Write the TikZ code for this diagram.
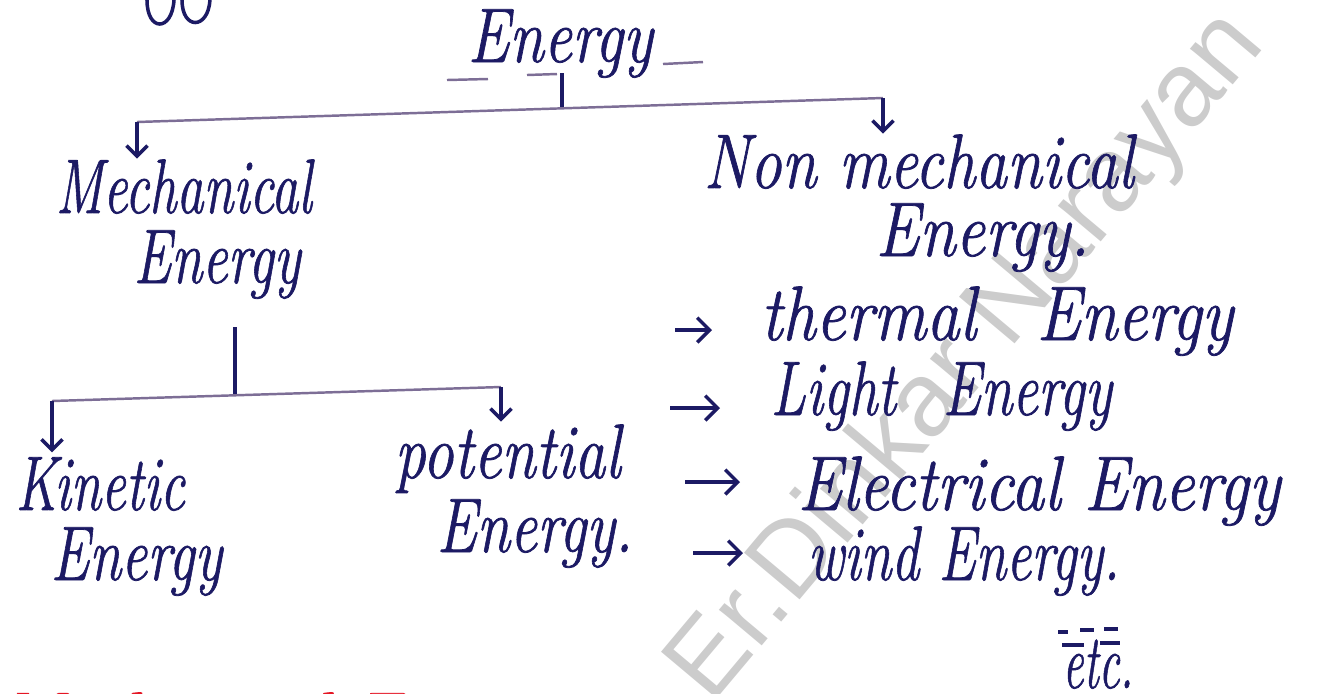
\documentclass[tikz,border=0pt]{standalone}
\usepackage{fontspec}
\setsansfont{Liberation Sans}
\newfontfamily\handfont{Latin Modern Roman}[ItalicFeatures={FakeBold=1}]
\usetikzlibrary{arrows.meta,positioning,calc}
\definecolor{ink}{RGB}{28,26,100}
\definecolor{pen}{RGB}{125,110,150}
\definecolor{redink}{RGB}{228,22,36}
\definecolor{wmark}{RGB}{204,204,204}
\newcommand{\hw}[2]{\scalebox{#1}[1]{#2}}

\begin{document}
\begin{tikzpicture}[x=0.01cm,y=-0.01cm,
    hand/.style={font=\handfont\fontsize{22}{26}\selectfont\itshape, text=ink, inner sep=0pt, anchor=base west},
    bar/.style={pen, line width=0.7pt},
    stem/.style={ink, line width=1pt},
    down/.style={ink, line width=1pt, -{Straight Barb[length=3pt,width=6pt]}},
    bullet/.style={ink, line width=1pt, -{Straight Barb[length=3.5pt,width=7pt]}}]
  \useasboundingbox (0,0) rectangle (1335,693);
  % watermark
  \node[font=\sffamily\fontsize{30}{32}\selectfont, text=wmark, rotate=50] (wm) at (968,358) {Er.Dinkar Narayan};
  % bit of the line above
  \draw[stem] (147,0) .. controls (147,32) and (172,32) .. (174,0);
  \draw[stem] (182,0) .. controls (182,30) and (208,30) .. (210,0);
  % words
  \node[hand] (ttl) at (467,62) {\hw{0.81}{Energy}};
  \node[hand] (mechA) at (55,213) {\hw{0.70}{Mechanical}};
  \node[hand] (mechB) at (133,283) {\hw{0.73}{Energy}};
  \node[hand] (nonA) at (703,188) {\hw{0.82}{Non mechanical}};
  \node[hand] (nonB) at (875,256) {\hw{0.85}{Energy.}};
  \node[hand] (kinA) at (15,510) {\hw{0.71}{Kinetic}};
  \node[hand] (kinB) at (50,580) {\hw{0.75}{Energy}};
  \node[hand] (potA) at (394,478) {\hw{0.80}{potential}};
  \node[hand] (potB) at (436,552) {\hw{0.78}{Energy.}};
  \node[hand] (therm) at (760,340) {\hw{0.86}{thermal\hspace{20pt}Energy}};
  \node[hand] (light) at (770,415) {\hw{0.74}{Light\hspace{18pt}Energy}};
  \node[hand] (elec) at (797,510) {\hw{0.86}{Electrical Energy}};
  \node[hand] (wind) at (807,580) {\hw{0.72}{wind Energy.}};
  \node[hand] (etcn) at (1062,688) {\hw{0.6}{etc.}};
  \node[hand, text=redink] (red) at (0,746) {\hw{0.9}{Mechanical Energy}};
  % underline of the title
  \draw[bar] (447,80) -- (488,79);
  \draw[bar] (527,75) -- (557,74);
  \draw[bar] (663,64) -- (703,62);
  % first split
  \coordinate (t0) at (562,73);
  \coordinate (t1) at (562,109);
  \coordinate (b1l) at (137,122);
  \coordinate (b1r) at (883,98);
  \draw[stem] (t0) -- (t1);
  \draw[bar] (b1l) -- (b1r);
  \draw[down] (b1l) -- (b1l |- mechA.north);
  \draw[down] (b1r) -- (b1r |- nonA.north);
  % second split
  \coordinate (s0) at (235,327);
  \coordinate (s1) at (235,395);
  \coordinate (b2l) at (52,401);
  \coordinate (b2r) at (501,387);
  \draw[stem] (s0) -- (s1);
  \draw[bar] (b2l) -- (b2r);
  \draw[down] (b2l) -- ($(b2l |- kinA.north)+(0,-4)$);
  \draw[down] (b2r) -- ($(b2r |- potA.north)+(0,-2)$);
  % list marks
  \draw[bullet] ($(therm.base west)+(-85,-10)$) -- ++(37,0);
  \draw[bullet] ($(light.base west)+(-100,-7)$) -- ++(50,0);
  \draw[bullet] ($(elec.base west)+(-112,-28)$) -- ++(55,0);
  \draw[bullet] ($(wind.base west)+(-114,-27)$) -- ++(50,0);
  % dashes over etc.
  \draw[stem] (1058,632) -- (1068,632);
  \draw[stem] (1080,630) -- (1094,630);
  \draw[stem] (1104,629) -- (1118,629);
  \draw[stem] (1062,645) -- (1084,645);
  \draw[stem] (1100,643) -- (1120,643);
\end{tikzpicture}
\end{document}
